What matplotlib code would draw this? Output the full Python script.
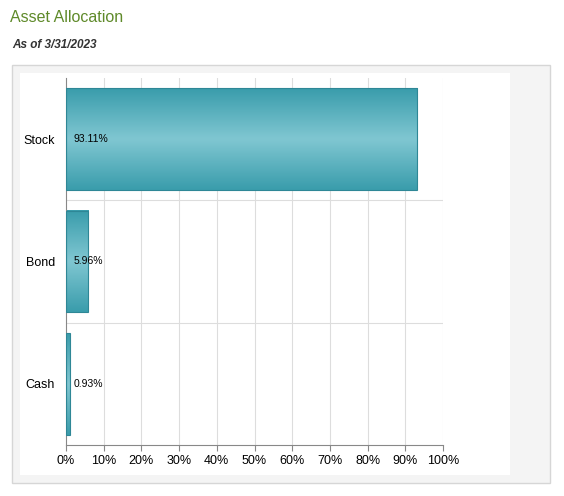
import numpy as np
import matplotlib.pyplot as plt
from matplotlib.patches import Rectangle

categories = ['Stock', 'Bond', 'Cash']
values = [93.11, 5.96, 0.93]
ticks = list(range(0, 101, 10))

W, H = 564, 496
fig = plt.figure(figsize=(W / 100, H / 100), dpi=100)
fig.patch.set_facecolor('white')

# title block
fig.text(10 / W, 1 - 17 / H, 'Asset Allocation', fontsize=11.5, color='#5f8a2a',
         va='center', ha='left', family='Liberation Sans')
fig.text(12 / W, 1 - 45 / H, 'As of 3/31/2023', fontsize=8.5, fontweight='bold',
         style='italic', color='#333333', va='center', ha='left', family='Liberation Sans')

# grey panel + white inner area (behind the axes)
fig.patches.append(Rectangle((12 / W, 1 - 483 / H), 538 / W, 418 / H, transform=fig.transFigure,
                             facecolor='#f4f4f4', edgecolor='#d6d6d6', lw=1, zorder=-10))
fig.patches.append(Rectangle((20 / W, 1 - 475 / H), 490 / W, 402 / H, transform=fig.transFigure,
                             facecolor='white', edgecolor='none', zorder=-9))

ax = fig.add_axes([66 / W, 1 - 445 / H, 377 / W, 367 / H])
ax.set_zorder(5)
ax.set_facecolor('none')

# gridlines
for t in ticks[1:]:
    ax.axvline(t, color='#dddddd', lw=0.8, zorder=0)
for i in range(1, len(categories)):
    ax.axhline(i, color='#dddddd', lw=0.8, zorder=0)

grad = np.abs(np.linspace(-1, 1, 64))[:, None]
cmap = plt.matplotlib.colors.LinearSegmentedColormap.from_list('teal', ['#7fc6d1', '#3a9dac'])
bh = 0.83
for i, (c, v) in enumerate(zip(categories, values)):
    y0 = i + (1 - bh) / 2
    ax.imshow(grad, extent=(0, v, y0 + bh, y0), cmap=cmap, aspect='auto', zorder=2,
              interpolation='bicubic')
    ax.add_patch(Rectangle((0, y0), v, bh, facecolor='none', edgecolor='#2e8796', lw=0.8, zorder=3))
    ax.text(2, i + 0.5, f'{v:.2f}%', fontsize=7.5, va='center', ha='left', zorder=4,
            family='Liberation Sans')
ax.set_xlim(0, 100)
ax.set_ylim(len(categories), 0)

ax.set_xticks(ticks)
ax.set_xticklabels([f'{t}%' for t in ticks], fontsize=9, family='Liberation Sans')
ax.set_yticks([i + 0.5 for i in range(len(categories))])
ax.set_yticklabels(categories, fontsize=9, family='Liberation Sans')
ax.tick_params(axis='y', length=0, pad=8)
ax.tick_params(axis='x', length=4, color='#888888')
for s in ['top', 'right']:
    ax.spines[s].set_visible(False)
for s in ['left', 'bottom']:
    ax.spines[s].set_color('#888888')

fig.savefig('out.png', dpi=100)
